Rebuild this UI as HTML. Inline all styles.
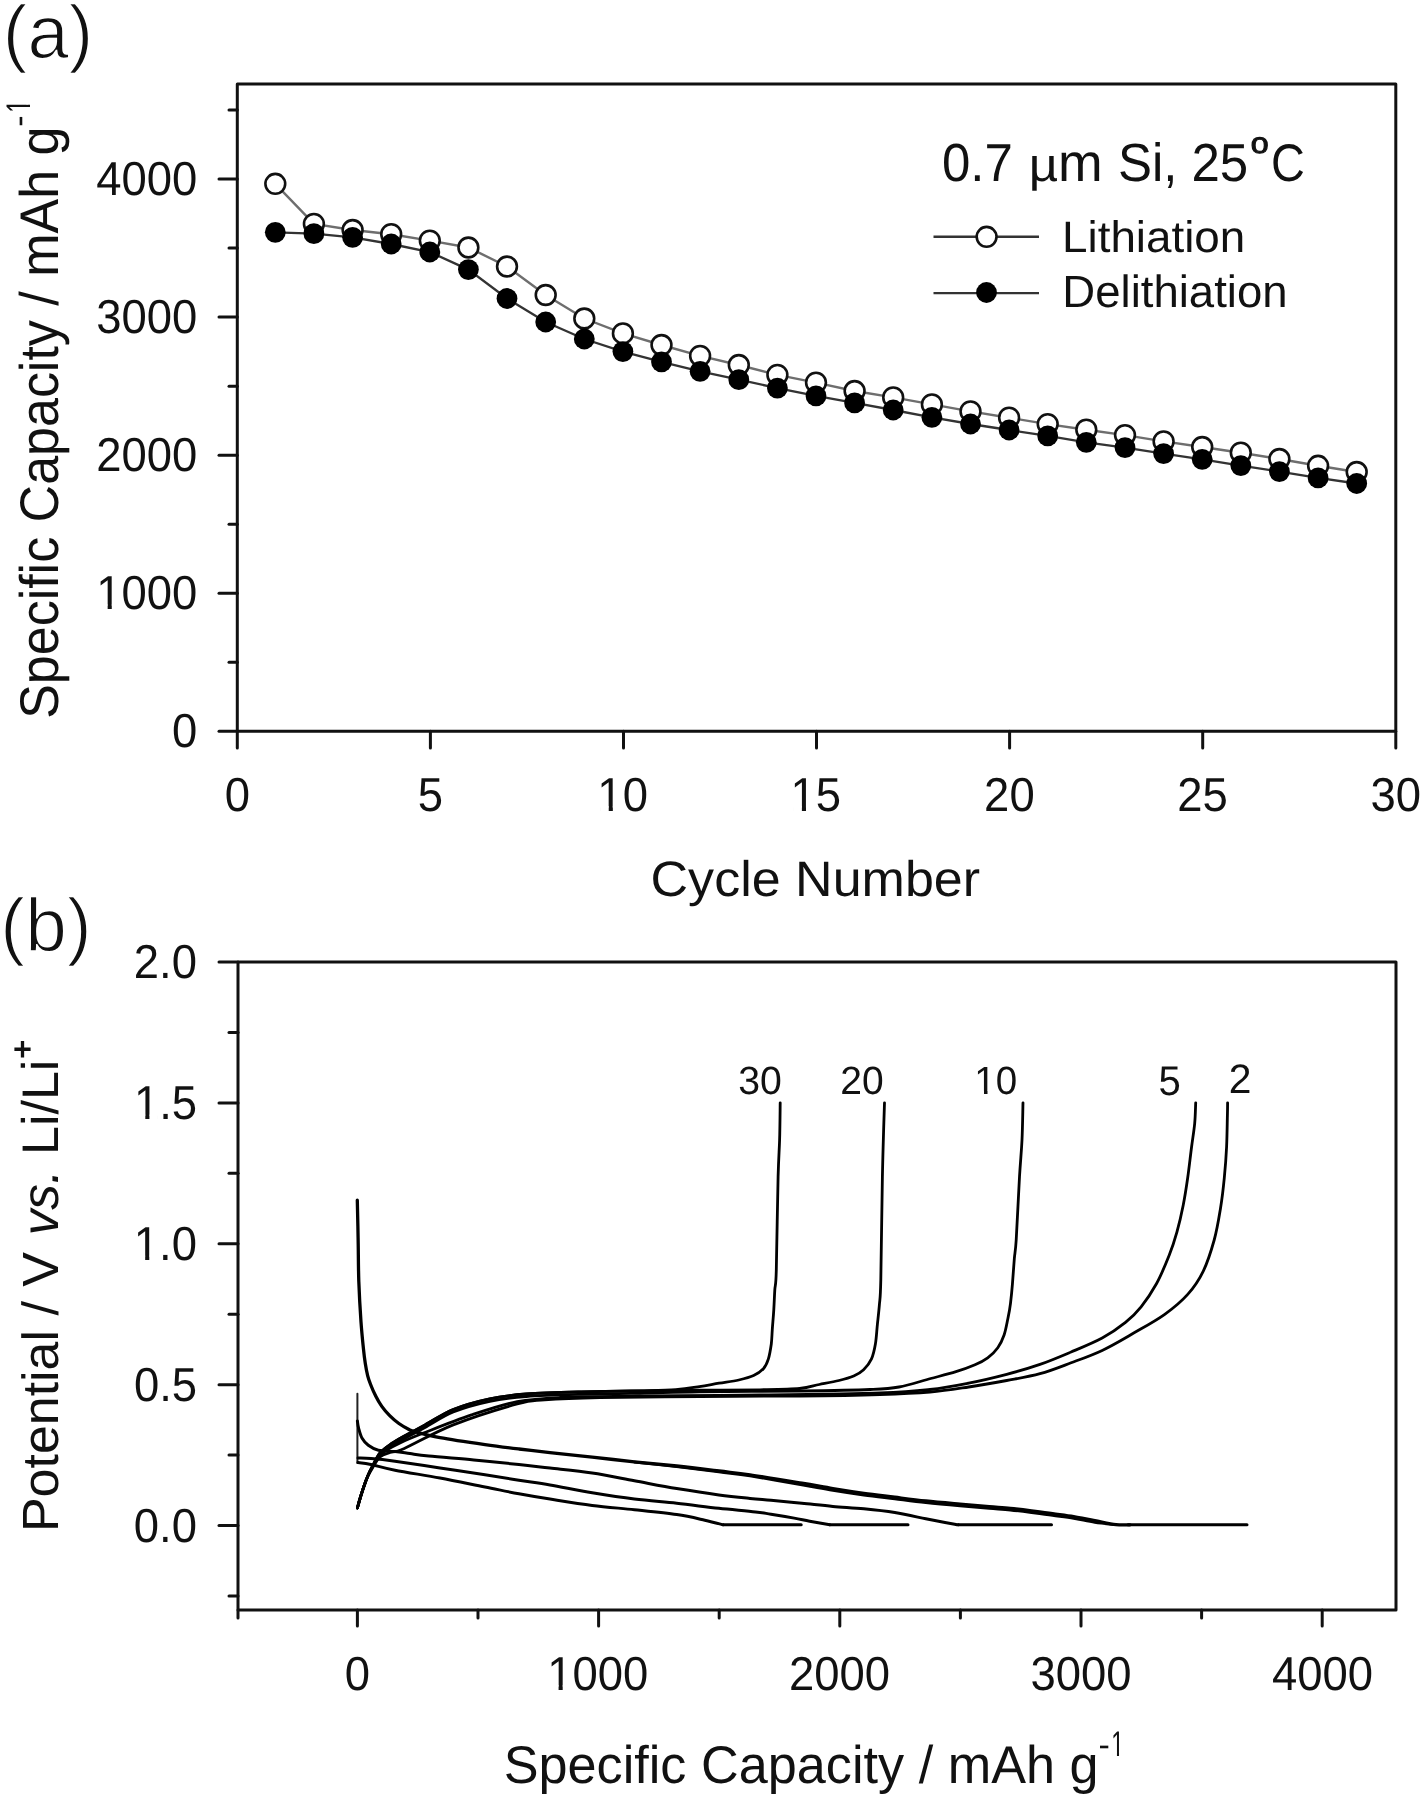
<!DOCTYPE html>
<html><head><meta charset="utf-8"><title>Si capacity plots</title><style>
html,body{margin:0;padding:0;background:#fff;overflow:hidden;}
svg{display:block;will-change:transform;}
text{font-family:"Liberation Sans", sans-serif;fill:#111;}
</style></head><body>
<svg width="1421" height="1800" viewBox="0 0 1421 1800" text-rendering="geometricPrecision">
<rect width="1421" height="1800" fill="#fff"/>
<path d="M237.3,84.0 L1395.8,84.0 L1395.8,731.3 L237.3,731.3 Z" fill="none" stroke="#111" stroke-width="3.0" stroke-linejoin="round"/>
<line x1="219.0" y1="731.3" x2="237.3" y2="731.3" stroke="#111" stroke-width="3.0" stroke-linecap="round"/>
<line x1="229.0" y1="662.3" x2="237.3" y2="662.3" stroke="#111" stroke-width="3.0" stroke-linecap="round"/>
<line x1="219.0" y1="593.2" x2="237.3" y2="593.2" stroke="#111" stroke-width="3.0" stroke-linecap="round"/>
<line x1="229.0" y1="524.2" x2="237.3" y2="524.2" stroke="#111" stroke-width="3.0" stroke-linecap="round"/>
<line x1="219.0" y1="455.2" x2="237.3" y2="455.2" stroke="#111" stroke-width="3.0" stroke-linecap="round"/>
<line x1="229.0" y1="386.2" x2="237.3" y2="386.2" stroke="#111" stroke-width="3.0" stroke-linecap="round"/>
<line x1="219.0" y1="317.1" x2="237.3" y2="317.1" stroke="#111" stroke-width="3.0" stroke-linecap="round"/>
<line x1="229.0" y1="248.1" x2="237.3" y2="248.1" stroke="#111" stroke-width="3.0" stroke-linecap="round"/>
<line x1="219.0" y1="179.1" x2="237.3" y2="179.1" stroke="#111" stroke-width="3.0" stroke-linecap="round"/>
<line x1="229.0" y1="110.1" x2="237.3" y2="110.1" stroke="#111" stroke-width="3.0" stroke-linecap="round"/>
<line x1="237.3" y1="731.3" x2="237.3" y2="748" stroke="#111" stroke-width="3.0" stroke-linecap="round"/>
<line x1="430.4" y1="731.3" x2="430.4" y2="748" stroke="#111" stroke-width="3.0" stroke-linecap="round"/>
<line x1="623.5" y1="731.3" x2="623.5" y2="748" stroke="#111" stroke-width="3.0" stroke-linecap="round"/>
<line x1="816.5" y1="731.3" x2="816.5" y2="748" stroke="#111" stroke-width="3.0" stroke-linecap="round"/>
<line x1="1009.6" y1="731.3" x2="1009.6" y2="748" stroke="#111" stroke-width="3.0" stroke-linecap="round"/>
<line x1="1202.7" y1="731.3" x2="1202.7" y2="748" stroke="#111" stroke-width="3.0" stroke-linecap="round"/>
<line x1="1395.8" y1="731.3" x2="1395.8" y2="748" stroke="#111" stroke-width="3.0" stroke-linecap="round"/>
<g transform="translate(172.10,747.00) scale(1.0100,1.0600)"><text font-size="45">0</text></g>
<g transform="translate(96.27,608.95) scale(1.0100,1.0600)"><text font-size="45">1000</text><path d="M2.70,-4.16 H11.27 V0.80 H2.70 Z M15.34,-4.16 H23.56 V0.80 H15.34 Z " fill="#fff"/></g>
<g transform="translate(96.27,470.90) scale(1.0100,1.0600)"><text font-size="45">2000</text></g>
<g transform="translate(96.27,332.85) scale(1.0100,1.0600)"><text font-size="45">3000</text></g>
<g transform="translate(96.27,194.80) scale(1.0100,1.0600)"><text font-size="45">4000</text></g>
<g transform="translate(224.66,810.60) scale(1.0100,1.0600)"><text font-size="45">0</text></g>
<g transform="translate(417.79,810.60) scale(1.0100,1.0600)"><text font-size="45">5</text></g>
<g transform="translate(597.35,810.60) scale(1.0100,1.0600)"><text font-size="45">10</text><path d="M2.70,-4.16 H11.27 V0.80 H2.70 Z M15.34,-4.16 H23.56 V0.80 H15.34 Z " fill="#fff"/></g>
<g transform="translate(790.50,810.60) scale(1.0100,1.0600)"><text font-size="45">15</text><path d="M2.70,-4.16 H11.27 V0.80 H2.70 Z M15.34,-4.16 H23.56 V0.80 H15.34 Z " fill="#fff"/></g>
<g transform="translate(984.10,810.60) scale(1.0100,1.0600)"><text font-size="45">20</text></g>
<g transform="translate(1177.25,810.60) scale(1.0100,1.0600)"><text font-size="45">25</text></g>
<g transform="translate(1370.55,810.60) scale(1.0100,1.0600)"><text font-size="45">30</text></g>
<path d="M275.3,183.8 L313.9,223.9 L352.6,230.0 L391.2,234.2 L429.8,240.6 L468.4,247.5 L507.0,266.5 L545.7,295.0 L584.3,318.5 L622.9,333.4 L661.5,345.0 L700.1,355.9 L738.8,365.0 L777.4,374.9 L816.0,382.6 L854.6,391.0 L893.2,397.4 L931.9,404.4 L970.5,411.4 L1009.1,417.7 L1047.7,424.1 L1086.3,429.7 L1125.0,435.1 L1163.6,441.4 L1202.2,447.0 L1240.8,452.7 L1279.4,459.0 L1318.1,465.8 L1356.7,472.0" fill="none" stroke="#6e6e6e" stroke-width="2.4"/>
<path d="M275.3,232.3 L313.9,233.7 L352.6,237.3 L391.2,244.0 L429.8,252.0 L468.4,269.6 L507.0,298.5 L545.7,322.0 L584.3,339.0 L622.9,351.6 L661.5,361.8 L700.1,371.3 L738.8,379.7 L777.4,388.1 L816.0,395.9 L854.6,402.9 L893.2,410.0 L931.9,417.3 L970.5,424.0 L1009.1,430.0 L1047.7,435.9 L1086.3,442.3 L1125.0,447.6 L1163.6,453.6 L1202.2,459.3 L1240.8,465.6 L1279.4,471.6 L1318.1,477.9 L1356.7,483.5" fill="none" stroke="#333" stroke-width="2.3"/>
<circle cx="275.3" cy="183.8" r="9.9" fill="#fff" stroke="#111" stroke-width="2.6"/>
<circle cx="313.9" cy="223.9" r="9.9" fill="#fff" stroke="#111" stroke-width="2.6"/>
<circle cx="352.6" cy="230.0" r="9.9" fill="#fff" stroke="#111" stroke-width="2.6"/>
<circle cx="391.2" cy="234.2" r="9.9" fill="#fff" stroke="#111" stroke-width="2.6"/>
<circle cx="429.8" cy="240.6" r="9.9" fill="#fff" stroke="#111" stroke-width="2.6"/>
<circle cx="468.4" cy="247.5" r="9.9" fill="#fff" stroke="#111" stroke-width="2.6"/>
<circle cx="507.0" cy="266.5" r="9.9" fill="#fff" stroke="#111" stroke-width="2.6"/>
<circle cx="545.7" cy="295.0" r="9.9" fill="#fff" stroke="#111" stroke-width="2.6"/>
<circle cx="584.3" cy="318.5" r="9.9" fill="#fff" stroke="#111" stroke-width="2.6"/>
<circle cx="622.9" cy="333.4" r="9.9" fill="#fff" stroke="#111" stroke-width="2.6"/>
<circle cx="661.5" cy="345.0" r="9.9" fill="#fff" stroke="#111" stroke-width="2.6"/>
<circle cx="700.1" cy="355.9" r="9.9" fill="#fff" stroke="#111" stroke-width="2.6"/>
<circle cx="738.8" cy="365.0" r="9.9" fill="#fff" stroke="#111" stroke-width="2.6"/>
<circle cx="777.4" cy="374.9" r="9.9" fill="#fff" stroke="#111" stroke-width="2.6"/>
<circle cx="816.0" cy="382.6" r="9.9" fill="#fff" stroke="#111" stroke-width="2.6"/>
<circle cx="854.6" cy="391.0" r="9.9" fill="#fff" stroke="#111" stroke-width="2.6"/>
<circle cx="893.2" cy="397.4" r="9.9" fill="#fff" stroke="#111" stroke-width="2.6"/>
<circle cx="931.9" cy="404.4" r="9.9" fill="#fff" stroke="#111" stroke-width="2.6"/>
<circle cx="970.5" cy="411.4" r="9.9" fill="#fff" stroke="#111" stroke-width="2.6"/>
<circle cx="1009.1" cy="417.7" r="9.9" fill="#fff" stroke="#111" stroke-width="2.6"/>
<circle cx="1047.7" cy="424.1" r="9.9" fill="#fff" stroke="#111" stroke-width="2.6"/>
<circle cx="1086.3" cy="429.7" r="9.9" fill="#fff" stroke="#111" stroke-width="2.6"/>
<circle cx="1125.0" cy="435.1" r="9.9" fill="#fff" stroke="#111" stroke-width="2.6"/>
<circle cx="1163.6" cy="441.4" r="9.9" fill="#fff" stroke="#111" stroke-width="2.6"/>
<circle cx="1202.2" cy="447.0" r="9.9" fill="#fff" stroke="#111" stroke-width="2.6"/>
<circle cx="1240.8" cy="452.7" r="9.9" fill="#fff" stroke="#111" stroke-width="2.6"/>
<circle cx="1279.4" cy="459.0" r="9.9" fill="#fff" stroke="#111" stroke-width="2.6"/>
<circle cx="1318.1" cy="465.8" r="9.9" fill="#fff" stroke="#111" stroke-width="2.6"/>
<circle cx="1356.7" cy="472.0" r="9.9" fill="#fff" stroke="#111" stroke-width="2.6"/>
<circle cx="275.3" cy="232.3" r="10.4" fill="#000"/>
<circle cx="313.9" cy="233.7" r="10.4" fill="#000"/>
<circle cx="352.6" cy="237.3" r="10.4" fill="#000"/>
<circle cx="391.2" cy="244.0" r="10.4" fill="#000"/>
<circle cx="429.8" cy="252.0" r="10.4" fill="#000"/>
<circle cx="468.4" cy="269.6" r="10.4" fill="#000"/>
<circle cx="507.0" cy="298.5" r="10.4" fill="#000"/>
<circle cx="545.7" cy="322.0" r="10.4" fill="#000"/>
<circle cx="584.3" cy="339.0" r="10.4" fill="#000"/>
<circle cx="622.9" cy="351.6" r="10.4" fill="#000"/>
<circle cx="661.5" cy="361.8" r="10.4" fill="#000"/>
<circle cx="700.1" cy="371.3" r="10.4" fill="#000"/>
<circle cx="738.8" cy="379.7" r="10.4" fill="#000"/>
<circle cx="777.4" cy="388.1" r="10.4" fill="#000"/>
<circle cx="816.0" cy="395.9" r="10.4" fill="#000"/>
<circle cx="854.6" cy="402.9" r="10.4" fill="#000"/>
<circle cx="893.2" cy="410.0" r="10.4" fill="#000"/>
<circle cx="931.9" cy="417.3" r="10.4" fill="#000"/>
<circle cx="970.5" cy="424.0" r="10.4" fill="#000"/>
<circle cx="1009.1" cy="430.0" r="10.4" fill="#000"/>
<circle cx="1047.7" cy="435.9" r="10.4" fill="#000"/>
<circle cx="1086.3" cy="442.3" r="10.4" fill="#000"/>
<circle cx="1125.0" cy="447.6" r="10.4" fill="#000"/>
<circle cx="1163.6" cy="453.6" r="10.4" fill="#000"/>
<circle cx="1202.2" cy="459.3" r="10.4" fill="#000"/>
<circle cx="1240.8" cy="465.6" r="10.4" fill="#000"/>
<circle cx="1279.4" cy="471.6" r="10.4" fill="#000"/>
<circle cx="1318.1" cy="477.9" r="10.4" fill="#000"/>
<circle cx="1356.7" cy="483.5" r="10.4" fill="#000"/>
<g transform="translate(941.91,181.20) scale(1.0000,1.0503)"><text font-size="51">0.7</text></g>
<g transform="translate(1028.71,181.20) scale(1.0000,0.9241)"><text font-size="51">µ</text></g>
<g transform="translate(1058.04,181.20) scale(1.0522,1.0458)"><text font-size="51">m</text></g>
<g transform="translate(1117.88,181.20) scale(1.0000,1.0559)"><text font-size="51">Si,</text></g>
<g transform="translate(1191.44,181.20) scale(1.0000,1.0503)"><text font-size="51">25</text></g>
<g transform="translate(1250.85,152.80) scale(0.9468,0.8527)"><text font-size="34" style="stroke:#111;stroke-width:1.3px">o</text></g>
<g transform="translate(1271.12,181.20) scale(0.9196,1.0362)"><text font-size="51">C</text></g>
<line x1="933.5" y1="236.8" x2="1039" y2="236.8" stroke="#333" stroke-width="2.4"/>
<circle cx="986.6" cy="236.8" r="9.9" fill="#fff" stroke="#111" stroke-width="2.6"/>
<g transform="translate(1062.05,252.00) scale(1.0172,0.9787)"><text font-size="45">Lithiation</text></g>
<line x1="933.5" y1="293.1" x2="1039" y2="293.1" stroke="#333" stroke-width="2.4"/>
<circle cx="986.5" cy="292.5" r="10.4" fill="#000"/>
<g transform="translate(1062.37,307.40) scale(1.0115,1.0045)"><text font-size="45">Delithiation</text></g>
<g transform="translate(650.56,896.20) scale(1.0199,0.9796)"><text font-size="51">Cycle Number</text></g>
<g transform="translate(58.30,718.86) rotate(-90) scale(1.0193,1.0671)"><text font-size="51">Specific Capacity / mAh g</text></g>
<g transform="translate(30.00,126.81) rotate(-90) scale(1.0000,1.0000)"><text font-size="34" style="stroke-width:0">-</text></g>
<g transform="translate(30.00,112.77) rotate(-90) scale(0.6822,1.0046)"><text font-size="34" style="stroke-width:0">1</text><path d="M1.89,-3.34 H8.50 V0.80 H1.89 Z M11.60,-3.34 H17.95 V0.80 H11.60 Z " fill="#fff"/></g>
<g transform="translate(2.70,58.00) scale(1.0154,1.0303)"><text font-size="73" style="stroke:#fff;stroke-width:1.40px">(a)</text></g>
<path d="M238.0,962.0 L1396.0,962.0 L1396.0,1610.0 L238.0,1610.0 Z" fill="none" stroke="#111" stroke-width="3.0" stroke-linejoin="round"/>
<line x1="229.0" y1="1596.0" x2="238.0" y2="1596.0" stroke="#111" stroke-width="3.0" stroke-linecap="round"/>
<line x1="219.0" y1="1525.6" x2="238.0" y2="1525.6" stroke="#111" stroke-width="3.0" stroke-linecap="round"/>
<line x1="229.0" y1="1455.1" x2="238.0" y2="1455.1" stroke="#111" stroke-width="3.0" stroke-linecap="round"/>
<line x1="219.0" y1="1384.7" x2="238.0" y2="1384.7" stroke="#111" stroke-width="3.0" stroke-linecap="round"/>
<line x1="229.0" y1="1314.2" x2="238.0" y2="1314.2" stroke="#111" stroke-width="3.0" stroke-linecap="round"/>
<line x1="219.0" y1="1243.8" x2="238.0" y2="1243.8" stroke="#111" stroke-width="3.0" stroke-linecap="round"/>
<line x1="229.0" y1="1173.3" x2="238.0" y2="1173.3" stroke="#111" stroke-width="3.0" stroke-linecap="round"/>
<line x1="219.0" y1="1102.9" x2="238.0" y2="1102.9" stroke="#111" stroke-width="3.0" stroke-linecap="round"/>
<line x1="229.0" y1="1032.4" x2="238.0" y2="1032.4" stroke="#111" stroke-width="3.0" stroke-linecap="round"/>
<line x1="219.0" y1="962.0" x2="238.0" y2="962.0" stroke="#111" stroke-width="3.0" stroke-linecap="round"/>
<line x1="238.0" y1="1610.0" x2="238.0" y2="1618" stroke="#111" stroke-width="3.0" stroke-linecap="round"/>
<line x1="357.4" y1="1610.0" x2="357.4" y2="1626" stroke="#111" stroke-width="3.0" stroke-linecap="round"/>
<line x1="478.0" y1="1610.0" x2="478.0" y2="1618" stroke="#111" stroke-width="3.0" stroke-linecap="round"/>
<line x1="598.6" y1="1610.0" x2="598.6" y2="1626" stroke="#111" stroke-width="3.0" stroke-linecap="round"/>
<line x1="719.2" y1="1610.0" x2="719.2" y2="1618" stroke="#111" stroke-width="3.0" stroke-linecap="round"/>
<line x1="839.8" y1="1610.0" x2="839.8" y2="1626" stroke="#111" stroke-width="3.0" stroke-linecap="round"/>
<line x1="960.4" y1="1610.0" x2="960.4" y2="1618" stroke="#111" stroke-width="3.0" stroke-linecap="round"/>
<line x1="1081.0" y1="1610.0" x2="1081.0" y2="1626" stroke="#111" stroke-width="3.0" stroke-linecap="round"/>
<line x1="1201.6" y1="1610.0" x2="1201.6" y2="1618" stroke="#111" stroke-width="3.0" stroke-linecap="round"/>
<line x1="1322.2" y1="1610.0" x2="1322.2" y2="1626" stroke="#111" stroke-width="3.0" stroke-linecap="round"/>
<g transform="translate(133.79,1541.90) scale(1.0100,1.0600)"><text font-size="45">0.0</text></g>
<g transform="translate(133.93,1401.00) scale(1.0100,1.0600)"><text font-size="45">0.5</text></g>
<g transform="translate(133.79,1260.10) scale(1.0100,1.0600)"><text font-size="45">1.0</text><path d="M2.70,-4.16 H11.27 V0.80 H2.70 Z M15.34,-4.16 H23.56 V0.80 H15.34 Z " fill="#fff"/></g>
<g transform="translate(133.93,1119.20) scale(1.0100,1.0600)"><text font-size="45">1.5</text><path d="M2.70,-4.16 H11.27 V0.80 H2.70 Z M15.34,-4.16 H23.56 V0.80 H15.34 Z " fill="#fff"/></g>
<g transform="translate(133.79,978.30) scale(1.0100,1.0600)"><text font-size="45">2.0</text></g>
<g transform="translate(344.76,1689.60) scale(1.0100,1.0600)"><text font-size="45">0</text></g>
<g transform="translate(547.20,1689.60) scale(1.0100,1.0600)"><text font-size="45">1000</text><path d="M2.70,-4.16 H11.27 V0.80 H2.70 Z M15.34,-4.16 H23.56 V0.80 H15.34 Z " fill="#fff"/></g>
<g transform="translate(788.99,1689.60) scale(1.0100,1.0600)"><text font-size="45">2000</text></g>
<g transform="translate(1030.47,1689.60) scale(1.0100,1.0600)"><text font-size="45">3000</text></g>
<g transform="translate(1272.01,1689.60) scale(1.0100,1.0600)"><text font-size="45">4000</text></g>
<g transform="translate(503.63,1783.20) scale(1.0239,1.0390)"><text font-size="51">Specific Capacity / mAh g</text></g>
<g transform="translate(1098.49,1756.00) scale(1.0000,1.0000)"><text font-size="34" style="stroke-width:0">-</text></g>
<g transform="translate(1111.27,1756.00) scale(0.6685,1.0431)"><text font-size="34" style="stroke-width:0">1</text><path d="M1.89,-3.34 H8.50 V0.80 H1.89 Z M11.60,-3.34 H17.95 V0.80 H11.60 Z " fill="#fff"/></g>
<g transform="translate(58.00,1532.06) rotate(-90) scale(1.0385,1.0175)"><text font-size="50">Potential / V </text></g>
<g transform="translate(58.00,1235.31) rotate(-90) scale(1.0267,1.0410)"><text font-size="50" font-style="italic">vs.</text></g>
<g transform="translate(58.00,1154.96) rotate(-90) scale(1.0397,1.0291)"><text font-size="50">Li/Li</text></g>
<path d="M14.4,1047.6 h16.2 v3.3 h-16.2 z M20.85,1041 h3.3 v16.4 h-3.3 z" fill="#111"/>
<g transform="translate(0.26,951.00) scale(1.0241,1.0303)"><text font-size="73" style="stroke:#fff;stroke-width:1.40px">(b)</text></g>
<g transform="translate(738.31,1094.40) scale(0.9805,0.9846)"><text font-size="40">30</text></g>
<g transform="translate(840.24,1094.40) scale(0.9751,0.9846)"><text font-size="40">20</text></g>
<g transform="translate(974.37,1094.40) scale(0.9628,0.9846)"><text font-size="40">10</text><path d="M2.33,-3.79 H10.01 V0.80 H2.33 Z M13.64,-3.79 H21.01 V0.80 H13.64 Z " fill="#fff"/></g>
<g transform="translate(1158.40,1094.80) scale(1.0019,1.0383)"><text font-size="40">5</text></g>
<g transform="translate(1228.85,1092.70) scale(1.0207,1.0276)"><text font-size="40">2</text></g>
<path d="M357.3,1200.2 C357.4,1206.5 357.9,1224.3 358.1,1237.8 C358.4,1251.3 358.3,1267.2 358.8,1281.2 C359.3,1295.2 360.2,1310.8 361.0,1322.0 C361.8,1333.2 362.7,1341.4 363.4,1348.3 C364.1,1355.2 364.6,1359.0 365.3,1363.6 C366.0,1368.2 366.8,1372.2 367.7,1375.8 C368.6,1379.4 369.5,1381.6 370.8,1385.0 C372.1,1388.4 373.9,1392.4 375.7,1396.0 C377.5,1399.6 379.5,1403.1 381.8,1406.4 C384.1,1409.7 386.9,1412.8 389.7,1415.6 C392.5,1418.4 395.8,1421.3 398.9,1423.5 C402.0,1425.7 405.6,1427.7 408.1,1429.0 C410.7,1430.3 408.9,1430.1 414.2,1431.5 C419.5,1432.9 428.2,1435.4 440.0,1437.6 C451.8,1439.8 471.8,1442.7 485.0,1444.6 C498.2,1446.5 508.2,1447.7 519.0,1449.0 C529.8,1450.3 537.8,1451.2 550.0,1452.6 C562.2,1454.0 578.1,1455.7 592.2,1457.2 C606.3,1458.7 620.3,1460.3 634.4,1461.8 C648.5,1463.3 662.6,1464.5 676.7,1466.0 C690.8,1467.5 706.7,1469.5 718.9,1471.0 C731.1,1472.5 736.2,1472.8 750.0,1474.8 C763.8,1476.8 788.1,1480.9 801.9,1483.2 C815.7,1485.5 822.6,1486.9 832.9,1488.6 C843.2,1490.3 853.6,1491.9 863.9,1493.3 C874.2,1494.7 884.5,1495.9 894.8,1497.2 C905.1,1498.5 914.9,1499.8 925.8,1501.0 C936.7,1502.2 949.4,1503.2 960.0,1504.1 C970.6,1505.0 980.9,1505.9 989.3,1506.6 C997.7,1507.3 1003.4,1507.6 1010.4,1508.3 C1017.4,1509.0 1024.5,1509.9 1031.5,1510.8 C1038.5,1511.7 1045.6,1512.6 1052.6,1513.6 C1059.6,1514.6 1066.7,1515.4 1073.7,1516.6 C1080.7,1517.8 1087.8,1519.4 1094.8,1520.7 C1101.8,1522.0 1110.1,1523.9 1116.0,1524.6 C1121.9,1525.3 1127.7,1524.8 1130.0,1524.8" fill="none" stroke="#000" stroke-width="3.3" stroke-linejoin="round" stroke-linecap="round"/>
<path d="M1128.0,1524.8 L1247.0,1524.8" fill="none" stroke="#000" stroke-width="3.0" stroke-linejoin="round" stroke-linecap="round"/>
<path d="M634.4,1462.1 C641.5,1462.8 662.6,1465.0 676.7,1466.6 C690.8,1468.3 706.7,1470.4 718.9,1472.0 C731.1,1473.6 736.2,1473.9 750.0,1476.0 C763.8,1478.2 788.1,1482.5 801.9,1484.9 C815.7,1487.3 822.6,1488.7 832.9,1490.4 C843.2,1492.1 853.6,1493.7 863.9,1495.1 C874.2,1496.5 884.5,1497.7 894.8,1499.0 C905.1,1500.3 914.9,1501.7 925.8,1502.8 C936.7,1503.9 949.4,1505.0 960.0,1505.9 C970.6,1506.8 980.9,1507.7 989.3,1508.4 C997.7,1509.1 1003.4,1509.4 1010.4,1510.1 C1017.4,1510.8 1024.5,1511.7 1031.5,1512.6 C1038.5,1513.5 1045.6,1514.4 1052.6,1515.4 C1059.6,1516.4 1066.7,1517.2 1073.7,1518.4 C1080.7,1519.6 1087.8,1521.4 1094.8,1522.5 C1101.8,1523.6 1112.5,1524.4 1116.0,1524.8" fill="none" stroke="#000" stroke-width="2.6" stroke-linejoin="round" stroke-linecap="round"/>
<path d="M357.4,1393.8 L357.4,1463.0" fill="none" stroke="#222" stroke-width="2.0" stroke-linejoin="round" stroke-linecap="round"/>
<path d="M357.4,1421.0 C357.6,1422.2 357.8,1425.3 358.6,1428.2 C359.4,1431.1 360.5,1435.5 362.1,1438.3 C363.7,1441.1 365.6,1443.3 368.3,1445.3 C371.0,1447.3 373.9,1449.3 378.4,1450.3 C382.8,1451.3 389.7,1451.0 395.0,1451.5 C400.3,1452.0 404.4,1452.8 410.0,1453.6 C415.6,1454.4 418.2,1455.0 428.8,1456.1 C439.4,1457.2 458.8,1458.6 473.8,1460.0 C488.8,1461.4 506.2,1463.2 518.9,1464.5 C531.6,1465.8 537.8,1466.7 550.0,1468.1 C562.2,1469.5 578.1,1471.0 592.2,1473.1 C606.3,1475.2 620.3,1478.2 634.4,1480.8 C648.5,1483.4 662.6,1486.2 676.7,1488.6 C690.8,1490.9 706.7,1493.3 718.9,1494.9 C731.1,1496.5 741.3,1497.5 750.0,1498.4 C758.7,1499.3 762.4,1499.5 771.0,1500.3 C779.6,1501.1 791.6,1502.3 801.9,1503.3 C812.2,1504.3 822.6,1505.5 832.9,1506.4 C843.2,1507.3 853.6,1507.8 863.9,1508.8 C874.2,1509.8 884.5,1510.9 894.8,1512.6 C905.1,1514.3 917.4,1517.1 925.8,1518.8 C934.2,1520.5 939.6,1521.5 945.0,1522.5 C950.4,1523.5 956.1,1524.4 958.3,1524.8" fill="none" stroke="#000" stroke-width="3.0" stroke-linejoin="round" stroke-linecap="round"/>
<path d="M958.3,1524.8 L1051.5,1524.8" fill="none" stroke="#000" stroke-width="3.0" stroke-linejoin="round" stroke-linecap="round"/>
<path d="M358.0,1458.0 C360.2,1458.1 364.8,1458.0 371.0,1458.5 C377.2,1459.0 383.5,1459.6 395.0,1461.2 C406.5,1462.8 425.0,1465.8 440.0,1468.0 C455.0,1470.2 471.9,1472.7 485.0,1474.7 C498.1,1476.8 508.1,1478.6 518.9,1480.3 C529.7,1482.0 537.8,1482.9 550.0,1485.0 C562.2,1487.1 578.1,1490.5 592.2,1492.8 C606.3,1495.1 620.3,1497.3 634.4,1499.1 C648.5,1500.8 662.6,1501.8 676.7,1503.3 C690.8,1504.8 705.8,1506.9 718.9,1508.3 C732.0,1509.7 746.8,1510.9 755.5,1511.9 C764.2,1512.9 764.5,1513.2 771.0,1514.2 C777.5,1515.2 787.8,1516.9 794.2,1518.1 C800.7,1519.3 803.8,1520.1 809.7,1521.2 C815.6,1522.3 826.4,1524.2 829.8,1524.8" fill="none" stroke="#000" stroke-width="3.0" stroke-linejoin="round" stroke-linecap="round"/>
<path d="M829.8,1524.8 L908.0,1524.8" fill="none" stroke="#000" stroke-width="3.0" stroke-linejoin="round" stroke-linecap="round"/>
<path d="M358.0,1462.5 C360.2,1462.8 364.8,1463.2 371.0,1464.5 C377.2,1465.8 383.5,1468.0 395.0,1470.2 C406.5,1472.5 425.0,1475.2 440.0,1478.0 C455.0,1480.8 471.9,1484.4 485.0,1487.0 C498.1,1489.6 508.1,1491.8 518.9,1493.8 C529.7,1495.8 537.8,1497.2 550.0,1499.1 C562.2,1501.0 578.1,1503.6 592.2,1505.4 C606.3,1507.2 620.3,1508.2 634.4,1509.7 C648.5,1511.2 665.0,1512.8 676.7,1514.6 C688.4,1516.3 697.1,1518.5 704.8,1520.2 C712.5,1521.9 720.0,1524.0 723.1,1524.8" fill="none" stroke="#000" stroke-width="3.0" stroke-linejoin="round" stroke-linecap="round"/>
<path d="M723.1,1524.8 L801.2,1524.8" fill="none" stroke="#000" stroke-width="3.0" stroke-linejoin="round" stroke-linecap="round"/>
<path d="M357.4,1508.0 C357.9,1506.2 359.3,1500.8 360.5,1497.0 C361.7,1493.2 363.1,1488.6 364.4,1485.0 C365.6,1481.4 366.7,1478.5 368.0,1475.5 C369.3,1472.5 370.2,1470.8 372.2,1467.0 C374.2,1463.2 376.8,1456.9 380.0,1453.0 C383.2,1449.1 387.2,1446.6 391.7,1443.5 C396.2,1440.4 401.6,1437.6 407.2,1434.5 C412.8,1431.4 417.3,1429.2 425.0,1425.0 C432.7,1420.8 442.4,1413.9 453.2,1409.5 C464.0,1405.1 477.6,1401.4 489.8,1398.8 C502.0,1396.2 511.1,1395.2 526.4,1394.0 C541.6,1392.8 562.4,1392.3 581.3,1391.8 C600.2,1391.3 624.2,1391.2 640.0,1390.8 C655.8,1390.4 665.9,1390.3 675.8,1389.6 C685.7,1388.9 692.2,1387.7 699.4,1386.6 C706.6,1385.5 712.5,1384.3 719.1,1383.2 C725.7,1382.1 733.0,1381.3 738.8,1380.0 C744.5,1378.7 749.5,1377.5 753.6,1375.6 C757.7,1373.7 760.9,1371.5 763.4,1368.7 C765.9,1365.9 767.1,1362.9 768.4,1358.8 C769.7,1354.7 770.6,1348.9 771.3,1344.0 C771.9,1339.1 771.9,1335.0 772.3,1329.3 C772.7,1323.6 773.4,1316.2 773.8,1309.6 C774.2,1303.0 774.4,1296.5 774.8,1289.9 C775.2,1283.3 775.8,1288.9 776.3,1270.0 C776.8,1251.1 777.5,1198.4 778.1,1176.7 C778.7,1155.0 779.2,1152.3 779.6,1140.0 C780.0,1127.7 780.1,1109.0 780.2,1102.8" fill="none" stroke="#000" stroke-width="2.8" stroke-linejoin="round" stroke-linecap="round"/>
<path d="M357.4,1508.0 C357.9,1506.2 359.3,1500.8 360.5,1497.0 C361.7,1493.2 363.1,1488.6 364.4,1485.0 C365.6,1481.4 366.7,1478.5 368.0,1475.5 C369.3,1472.5 370.2,1470.8 372.2,1467.0 C374.2,1463.2 376.8,1456.9 380.0,1453.0 C383.2,1449.1 387.2,1446.6 391.7,1443.5 C396.2,1440.4 401.6,1437.6 407.2,1434.5 C412.8,1431.4 417.3,1429.2 425.0,1425.0 C432.7,1420.8 442.4,1413.9 453.2,1409.5 C464.0,1405.1 477.6,1401.4 489.8,1398.8 C502.0,1396.2 511.1,1395.2 526.4,1394.0 C541.6,1392.8 562.4,1392.3 581.3,1391.8 C600.2,1391.3 620.2,1391.1 640.0,1390.8 C659.8,1390.5 680.0,1390.4 700.0,1390.2 C720.0,1390.0 743.4,1390.1 760.0,1389.8 C776.6,1389.5 789.7,1389.4 799.6,1388.5 C809.5,1387.6 812.7,1385.8 819.3,1384.5 C825.9,1383.2 833.3,1381.9 839.0,1380.5 C844.7,1379.1 849.6,1377.8 853.7,1376.0 C857.8,1374.2 860.6,1372.6 863.6,1369.7 C866.6,1366.8 869.5,1363.1 871.5,1358.8 C873.5,1354.5 874.4,1349.8 875.4,1344.0 C876.4,1338.2 876.7,1330.9 877.4,1324.3 C878.1,1317.7 878.8,1312.0 879.4,1304.6 C880.0,1297.2 880.3,1301.3 880.8,1280.0 C881.3,1258.7 881.8,1206.2 882.4,1176.7 C883.0,1147.2 884.1,1115.1 884.5,1102.8" fill="none" stroke="#000" stroke-width="2.8" stroke-linejoin="round" stroke-linecap="round"/>
<path d="M357.4,1508.0 C357.9,1506.2 359.3,1500.8 360.5,1497.0 C361.7,1493.2 363.1,1488.6 364.4,1485.0 C365.6,1481.4 366.7,1478.5 368.0,1475.5 C369.3,1472.5 370.2,1470.3 372.2,1467.0 C374.2,1463.7 376.8,1459.0 380.0,1455.5 C383.2,1452.0 387.2,1449.1 391.7,1446.0 C396.2,1442.9 401.6,1440.1 407.2,1437.0 C412.8,1433.9 417.3,1431.7 425.0,1427.5 C432.7,1423.3 442.4,1416.4 453.2,1412.0 C464.0,1407.6 477.6,1403.9 489.8,1401.3 C502.0,1398.7 511.1,1397.7 526.4,1396.5 C541.6,1395.3 562.4,1394.8 581.3,1394.3 C600.2,1393.8 620.2,1393.7 640.0,1393.3 C659.8,1392.9 673.3,1392.2 700.0,1391.8 C726.7,1391.4 771.7,1391.4 800.0,1391.0 C828.3,1390.6 853.5,1390.2 870.0,1389.5 C886.5,1388.8 888.9,1388.8 899.0,1387.0 C909.1,1385.2 921.2,1381.0 930.7,1378.5 C940.2,1376.0 948.6,1374.0 956.0,1371.7 C963.4,1369.4 969.7,1367.1 975.0,1364.8 C980.3,1362.5 983.9,1360.6 987.7,1357.8 C991.5,1355.0 995.1,1351.5 997.8,1347.7 C1000.5,1343.9 1002.4,1339.9 1004.1,1335.0 C1005.8,1330.1 1006.8,1323.8 1007.9,1318.5 C1009.0,1313.2 1009.8,1309.0 1010.5,1303.3 C1011.2,1297.6 1011.8,1291.7 1012.4,1284.3 C1013.0,1276.9 1013.7,1266.4 1014.3,1259.0 C1014.9,1251.6 1015.3,1253.7 1016.2,1240.0 C1017.1,1226.3 1018.5,1193.4 1019.5,1176.7 C1020.5,1160.0 1021.4,1152.3 1022.0,1140.0 C1022.6,1127.7 1022.8,1109.0 1023.0,1102.8" fill="none" stroke="#000" stroke-width="2.8" stroke-linejoin="round" stroke-linecap="round"/>
<path d="M357.4,1508.0 C357.9,1506.2 359.3,1500.8 360.5,1497.0 C361.7,1493.2 363.1,1488.6 364.4,1485.0 C365.6,1481.4 366.7,1478.5 368.0,1475.5 C369.3,1472.5 370.2,1470.5 372.2,1467.0 C374.2,1463.5 375.4,1458.5 380.0,1454.5 C384.6,1450.5 392.4,1446.7 400.0,1443.0 C407.6,1439.3 413.8,1436.9 425.7,1432.2 C437.6,1427.5 456.2,1420.0 471.5,1414.9 C486.8,1409.8 502.5,1404.5 517.2,1401.6 C532.0,1398.7 539.5,1398.4 560.0,1397.5 C580.5,1396.6 606.7,1396.4 640.0,1396.0 C673.3,1395.6 720.0,1395.5 760.0,1395.0 C800.0,1394.5 851.7,1393.9 880.0,1393.0 C908.3,1392.1 915.2,1391.2 930.0,1389.5 C944.8,1387.8 955.9,1385.6 968.7,1383.1 C981.5,1380.6 994.8,1377.4 1006.7,1374.3 C1018.6,1371.2 1029.3,1368.1 1040.0,1364.4 C1050.7,1360.7 1060.7,1356.4 1071.1,1352.0 C1081.5,1347.6 1093.1,1342.9 1102.2,1338.0 C1111.3,1333.1 1119.0,1327.6 1125.5,1322.4 C1132.0,1317.2 1135.9,1313.3 1141.1,1306.8 C1146.3,1300.3 1151.9,1292.0 1156.6,1283.5 C1161.3,1275.0 1165.7,1264.0 1169.1,1255.5 C1172.5,1247.0 1174.6,1240.5 1176.9,1232.2 C1179.2,1223.9 1181.3,1214.9 1183.1,1205.8 C1184.9,1196.7 1186.3,1187.6 1187.7,1177.8 C1189.1,1168.0 1190.4,1155.8 1191.6,1146.7 C1192.8,1137.6 1194.0,1130.6 1194.7,1123.3 C1195.4,1116.0 1195.5,1106.2 1195.7,1102.8" fill="none" stroke="#000" stroke-width="2.8" stroke-linejoin="round" stroke-linecap="round"/>
<path d="M357.4,1508.0 C357.9,1506.2 359.3,1500.8 360.5,1497.0 C361.7,1493.2 363.1,1488.5 364.4,1485.0 C365.6,1481.5 366.7,1478.8 368.0,1476.0 C369.3,1473.2 370.2,1471.7 372.2,1468.5 C374.2,1465.3 377.0,1459.7 380.0,1457.0 C383.0,1454.3 386.0,1453.9 390.0,1452.5 C394.0,1451.1 393.3,1453.3 403.8,1448.7 C414.3,1444.1 434.3,1432.4 453.2,1424.9 C472.1,1417.4 502.0,1408.1 517.2,1403.9 C532.5,1399.7 530.9,1400.9 544.7,1399.8 C558.5,1398.7 574.1,1398.0 600.0,1397.5 C625.9,1397.0 666.7,1396.8 700.0,1396.5 C733.3,1396.2 770.0,1396.3 800.0,1396.0 C830.0,1395.7 858.3,1395.2 880.0,1394.5 C901.7,1393.8 915.2,1393.2 930.0,1392.0 C944.8,1390.8 955.9,1388.9 968.7,1387.0 C981.5,1385.1 994.8,1382.7 1006.7,1380.5 C1018.6,1378.3 1029.3,1376.7 1040.0,1373.7 C1050.7,1370.8 1060.7,1366.7 1071.1,1362.8 C1081.5,1358.9 1091.8,1355.3 1102.2,1350.4 C1112.6,1345.5 1122.9,1339.3 1133.3,1333.3 C1143.7,1327.3 1155.3,1321.1 1164.4,1314.6 C1173.5,1308.1 1181.2,1301.7 1187.7,1294.4 C1194.2,1287.2 1198.9,1280.2 1203.3,1271.1 C1207.7,1262.0 1211.3,1250.4 1214.2,1240.0 C1217.1,1229.6 1218.7,1219.3 1220.4,1208.9 C1222.1,1198.5 1223.3,1188.2 1224.3,1177.8 C1225.3,1167.4 1226.1,1157.1 1226.6,1146.7 C1227.1,1136.3 1227.2,1122.9 1227.4,1115.6 C1227.6,1108.3 1227.6,1104.9 1227.6,1102.8" fill="none" stroke="#000" stroke-width="2.8" stroke-linejoin="round" stroke-linecap="round"/>
</svg></body></html>
